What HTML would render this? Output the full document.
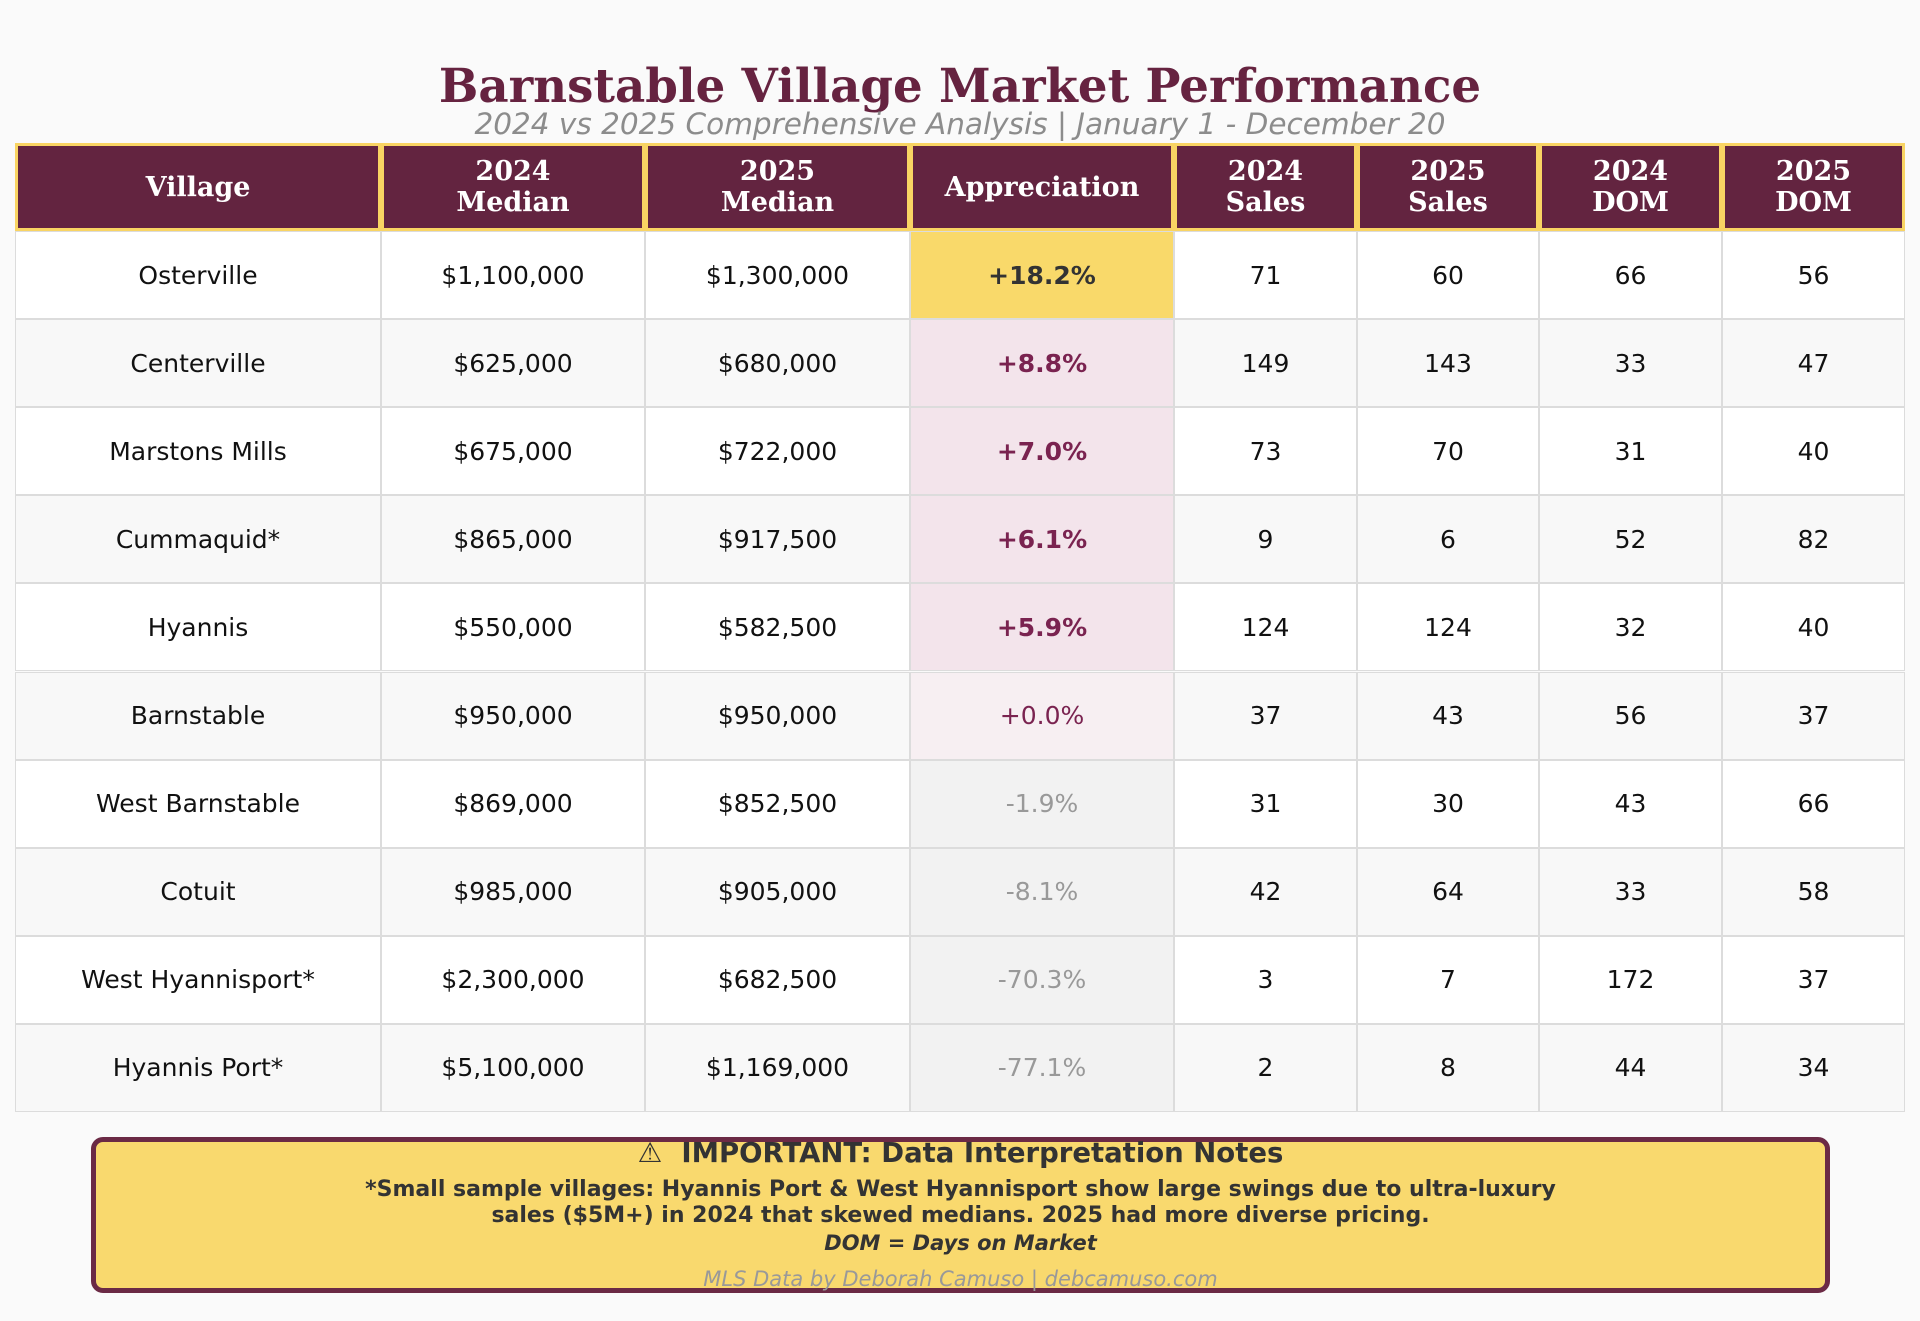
<!DOCTYPE html>
<html><head><meta charset="utf-8"><style>
body{margin:0;width:1920px;height:1321px;background:#fafafa;position:relative;overflow:hidden;font-family:"DejaVu Sans","Liberation Sans",sans-serif}
.a{position:absolute;box-sizing:border-box;display:flex;align-items:center;justify-content:center;text-align:center}
#title{left:0;width:1920px;top:58px;height:56px;font-family:"DejaVu Serif","Liberation Serif",serif;font-weight:bold;font-size:46.7px;color:#662340}
#sub{left:0;width:1920px;top:108px;height:32px;font-style:italic;font-size:29.5px;color:#8c8c8c}
.h{background:#632440;color:#fff;font-family:"DejaVu Serif","Liberation Serif",serif;font-weight:bold;font-size:27px;line-height:31px;border:3px solid #f9d463}
.c{border:1.5px solid #dcdcdc;font-size:25px;color:#111}
#notes{left:91px;top:1137px;width:1739px;height:156px;background:#f9d96e;border:5px solid #6b2a45;border-radius:12px;display:block}
</style></head><body>
<div class="a" id="title">Barnstable Village Market Performance</div>
<div class="a" id="sub">2024 vs 2025 Comprehensive Analysis | January 1 - December 20</div>
<div id="tbl"></div>
<div class="a" id="notes">
<div style="position:absolute;left:0;right:0;top:-5px;text-align:center;font-weight:bold;font-size:27.5px;color:#333;white-space:pre">⚠  IMPORTANT: Data Interpretation Notes</div>
<div style="position:absolute;left:0;right:0;top:35px;text-align:center;font-weight:bold;font-size:22px;line-height:26px;color:#333">*Small sample villages: Hyannis Port &amp; West Hyannisport show large swings due to ultra-luxury<br>sales ($5M+) in 2024 that skewed medians. 2025 had more diverse pricing.</div>
<div style="position:absolute;left:0;right:0;top:89px;text-align:center;font-weight:bold;font-style:italic;font-size:21px;color:#333">DOM = Days on Market</div>
<div style="position:absolute;left:0;right:0;top:125px;text-align:center;font-style:italic;font-size:21px;color:#999">MLS Data by Deborah Camuso | debcamuso.com</div>
</div>
<script>
const headers=["Village","2024<br>Median","2025<br>Median","Appreciation","2024<br>Sales","2025<br>Sales","2024<br>DOM","2025<br>DOM"];
const villages=["Osterville","Centerville","Marstons Mills","Cummaquid*","Hyannis","Barnstable","West Barnstable","Cotuit","West Hyannisport*","Hyannis Port*"];
const median2024=[1100000,625000,675000,865000,550000,950000,869000,985000,2300000,5100000];
const median2025=[1300000,680000,722000,917500,582500,950000,852500,905000,682500,1169000];
const appreciation=[18.2,8.8,7.0,6.1,5.9,0.0,-1.9,-8.1,-70.3,-77.1];
const sales2024=[71,149,73,9,124,37,31,42,3,2];
const sales2025=[60,143,70,6,124,43,30,64,7,8];
const dom2024=[66,33,31,52,32,56,43,33,172,44];
const dom2025=[56,47,40,82,40,37,66,58,37,34];
const colX=[15,381,645,910,1174,1357,1539,1722,1905];
const tbl=document.getElementById('tbl');
function cell(x,y,w,h,cls,html,name){const d=document.createElement('div');d.className='a '+cls;d.style.left=x+'px';d.style.top=y+'px';d.style.width=w+'px';d.style.height=h+'px';d.innerHTML=html;


tbl.appendChild(d);return d;}
const money=v=>'$'+v.toLocaleString('en-US');
headers.forEach((h,i)=>cell(colX[i],143,colX[i+1]-colX[i],88,'h',h,'header-'+h.replace('<br>','-').toLowerCase()));
const rowH=88.1,top0=231;
villages.forEach((v,r)=>{
 const y=top0+r*rowH,bg=r%2?'#f8f8f8':'#ffffff';
 const a=appreciation[r];
 const vals=[v,money(median2024[r]),money(median2025[r]),(a>=0?'+':'')+a.toFixed(1)+'%',sales2024[r],sales2025[r],dom2024[r],dom2025[r]];
 vals.forEach((t,i)=>{
  const d=cell(colX[i],y,colX[i+1]-colX[i],rowH,'c',t,'cell-'+r+'-'+i);
  d.style.background=bg;
  if(i===3){
   if(r===0){d.style.background='#f9d96a';d.style.fontWeight='bold';d.style.color='#333';}
   else if(a>0){d.style.background='#f3e4eb';d.style.fontWeight='bold';d.style.color='#7a2350';}
   else if(a===0){d.style.background='#f7eff2';d.style.color='#7a2350';}
   else{d.style.background='#f2f2f2';d.style.color='#999';}
  }
 });
});
</script>
</body></html>
